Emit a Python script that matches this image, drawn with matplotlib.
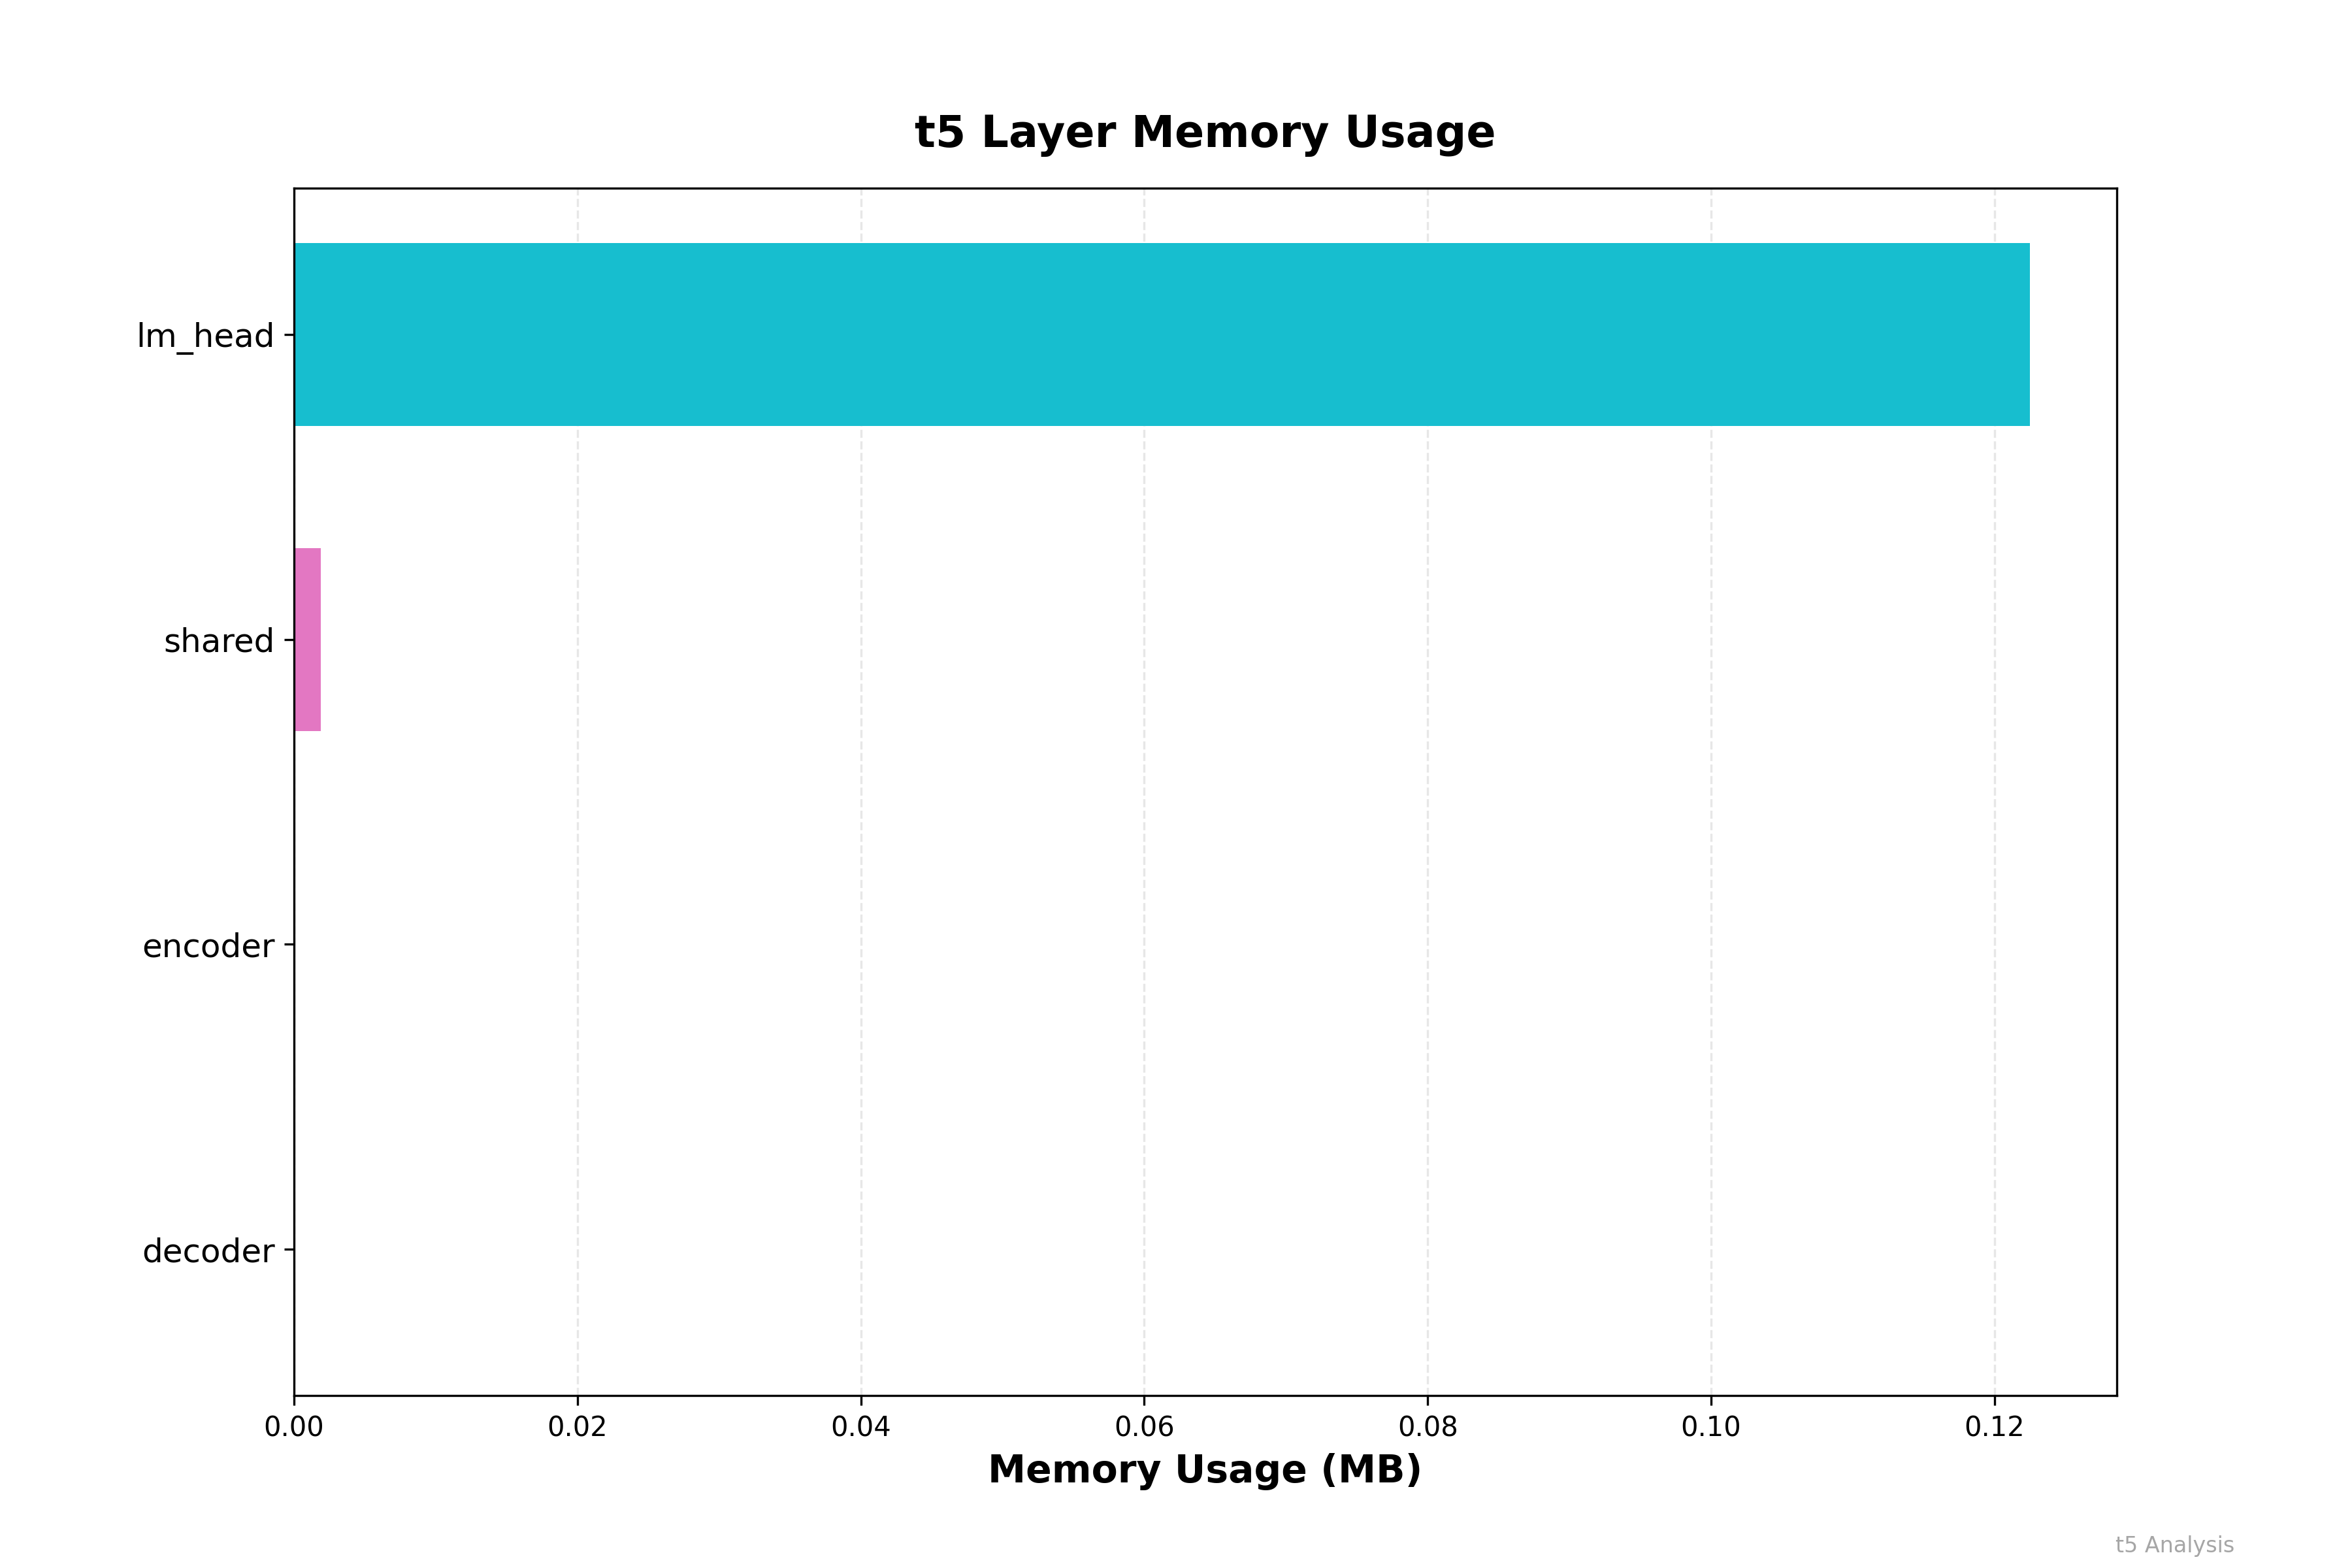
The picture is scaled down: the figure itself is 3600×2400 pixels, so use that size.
import numpy as np
from matplotlib import pyplot as plt

# layer memory usage (MB), bottom to top
layers = ['decoder', 'encoder', 'shared', 'lm_head']
memory_mb = [0.0, 0.0, 0.0019, 0.1225]
colors = ['#1f77b4', '#ff7f0e', '#e377c2', '#17becf']

fig, ax = plt.subplots(figsize=(12, 8))
y = np.arange(len(layers))
ax.barh(y, memory_mb, height=0.6, color=colors)
ax.set_yticks(y)
ax.set_yticklabels(layers, fontsize=12)
ax.tick_params(axis='x', labelsize=10)

ax.set_xlabel('Memory Usage (MB)', fontsize=14, fontweight='bold')
ax.set_title('t5 Layer Memory Usage', fontsize=16, fontweight='bold', pad=15)
ax.grid(axis='x', linestyle='--', alpha=0.3)
ax.set_axisbelow(True)

fig.text(0.95, 0.01, 't5 Analysis', ha='right', fontsize=8, color='gray', alpha=0.7)

plt.savefig('out.png', dpi=300)
